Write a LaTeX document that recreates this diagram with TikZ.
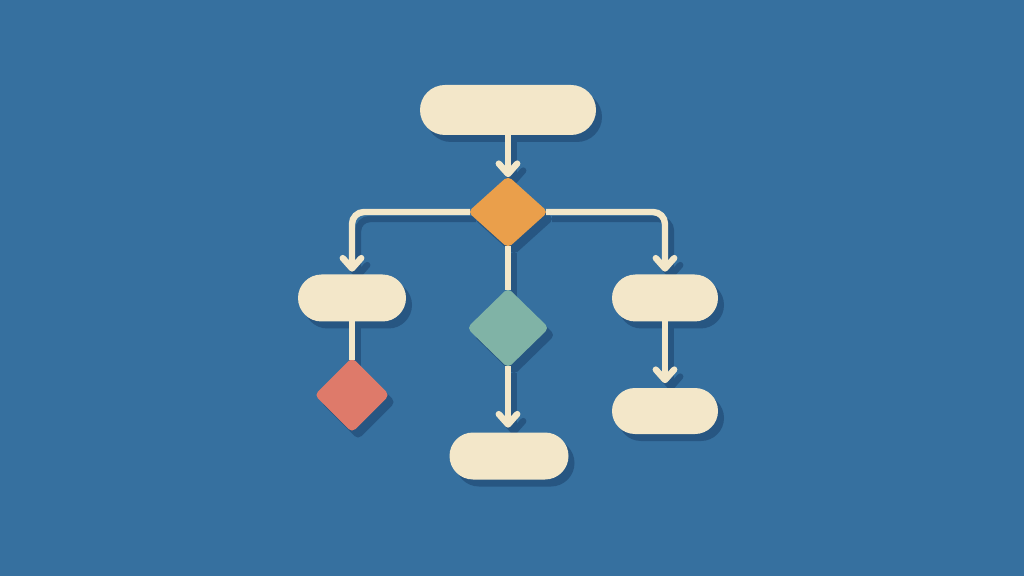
\documentclass[tikz,border=0pt]{standalone}
\usetikzlibrary{shapes.geometric,shapes.misc,arrows.meta}
\definecolor{bgc}{HTML}{36709F}
\definecolor{shc}{HTML}{275682}
\definecolor{creamc}{HTML}{F3E7C9}
\definecolor{orangec}{HTML}{EA9F4B}
\definecolor{tealc}{HTML}{80B3A6}
\definecolor{redc}{HTML}{DE7A6A}
\colorlet{fcream}{creamc}
\colorlet{forange}{orangec}
\colorlet{fteal}{tealc}
\colorlet{fred}{redc}
\def\pxu{0.025cm}
\tikzset{
  pill/.style={rounded rectangle, fill=fcream, inner sep=0pt, outer sep=0pt},
  decision/.style={diamond, inner sep=0pt, outer sep=0pt, rounded corners=0.12cm},
  conn/.style={draw=fcream, line width=0.16cm, rounded corners=0.3cm},
  arr/.style={conn, -{Straight Barb[length=0.26cm,width=0.46cm,round]}},
}
\newcommand\flowchart{%
  \node[pill, minimum width=176*\pxu, minimum height=50*\pxu] (top) at (508,110) {};
  \node[decision, fill=forange, minimum width=80*\pxu, minimum height=72*\pxu] (d1) at (508,212) {};
  \node[pill, minimum width=108*\pxu, minimum height=47*\pxu] (l1) at (352,298) {};
  \node[decision, fill=fred, minimum width=75*\pxu, minimum height=75*\pxu] (rd) at (352,395) {};
  \node[decision, fill=fteal, minimum width=82*\pxu, minimum height=80*\pxu] (td) at (508,328) {};
  \node[pill, minimum width=119*\pxu, minimum height=47*\pxu] (bc) at (509,456) {};
  \node[pill, minimum width=106*\pxu, minimum height=47*\pxu] (r1) at (665,298) {};
  \node[pill, minimum width=106*\pxu, minimum height=46*\pxu] (r2) at (665,411) {};
  \draw[arr, shorten >=-0.03cm] (top.south) -- (d1.north);
  \draw[arr, shorten <=-0.05cm, shorten >=0.07cm] (d1.west) -| (l1.north);
  \draw[arr, shorten <=-0.05cm, shorten >=0.07cm] (d1.east) -| (r1.north);
  \draw[conn, shorten <=-0.05cm, shorten >=-0.05cm] (d1.south) -- (td.north);
  \draw[arr, shorten <=-0.05cm, shorten >=0.12cm] (td.south) -- (td.south |- bc.north);
  \draw[conn, shorten >=-0.05cm] (l1.south) -- (rd.north);
  \draw[arr, shorten >=0.12cm] (r1.south) -- (r2.north);
}
\begin{document}
\begin{tikzpicture}[x=0.025cm, y=-0.025cm]
  \fill[bgc] (0,0) rectangle (1024,576);
  \useasboundingbox (0,0) rectangle (1024,576);
  \begin{scope}[shift={(6,7)}]
    \colorlet{fcream}{shc}\colorlet{forange}{shc}\colorlet{fteal}{shc}\colorlet{fred}{shc}
    \flowchart
  \end{scope}
  \flowchart
\end{tikzpicture}
\end{document}
